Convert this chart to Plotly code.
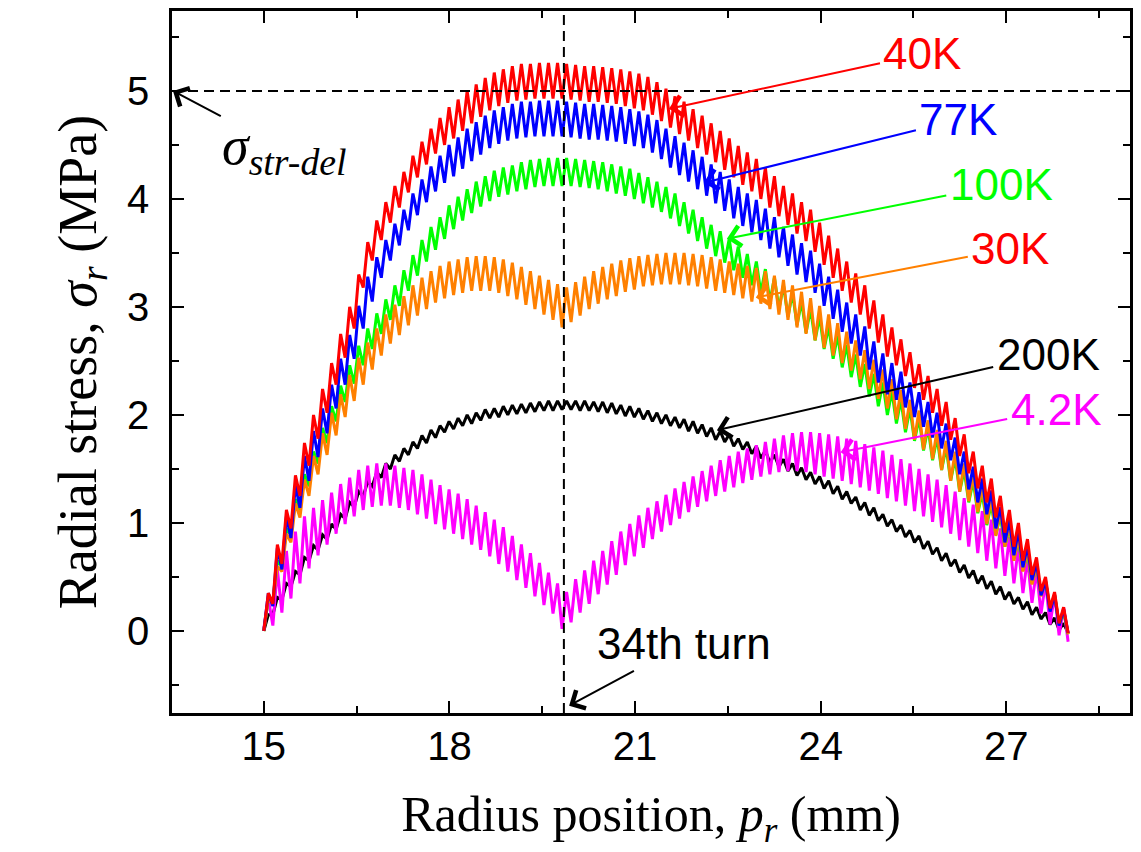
import plotly.graph_objects as go

# ---------------- data ----------------
inner_radius_mm = 15.0
outer_radius_mm = 28.0
n_turns = 89
stress_limit = 5.0          # sigma_str-del (MPa)
turn34_radius = 19.85       # radius of the 34th turn (mm)

red40_peak = [0.35,0.8,1.12,1.44,1.74,2.0,2.24,2.48,2.75,3.0,
 3.3,3.6,3.8,3.97,4.12,4.25,4.4,4.53,4.65,4.75,
 4.85,4.92,5.0,5.06,5.12,5.17,5.2,5.23,5.25,5.25,
 5.26,5.26,5.26,5.25,5.24,5.23,5.23,5.22,5.21,5.2,
 5.18,5.16,5.13,5.08,5.02,4.95,4.9,4.83,4.77,4.7,
 4.63,4.56,4.49,4.43,4.37,4.29,4.21,4.12,4.05,3.97,
 3.9,3.78,3.66,3.54,3.42,3.31,3.2,3.06,2.93,2.81,
 2.7,2.58,2.47,2.36,2.24,2.12,1.97,1.82,1.66,1.53,
 1.41,1.25,1.12,1.0,0.85,0.68,0.5,0.36,0.22]
red40_trough = [0.0,0.25,0.62,0.95,1.25,1.53,1.78,2.02,2.28,2.53,
 2.8,3.18,3.43,3.62,3.78,3.92,4.06,4.2,4.32,4.42,
 4.5,4.56,4.63,4.7,4.76,4.82,4.86,4.89,4.91,4.92,
 4.93,4.93,4.93,4.93,4.92,4.91,4.9,4.9,4.89,4.88,
 4.86,4.84,4.82,4.78,4.72,4.66,4.6,4.54,4.47,4.41,
 4.34,4.27,4.2,4.13,4.07,4.0,3.92,3.84,3.76,3.68,
 3.61,3.51,3.39,3.27,3.15,3.04,2.93,2.8,2.67,2.54,
 2.46,2.36,2.25,2.14,2.02,1.9,1.77,1.62,1.46,1.32,
 1.19,1.05,0.91,0.78,0.65,0.52,0.37,0.21,0.07,-0.02]

blue77_peak = [0.35,0.77,1.06,1.35,1.62,1.85,2.06,2.28,2.52,2.74,
 3.01,3.28,3.46,3.62,3.77,3.9,4.05,4.18,4.3,4.4,
 4.5,4.57,4.65,4.71,4.77,4.82,4.85,4.88,4.9,4.9,
 4.91,4.91,4.91,4.9,4.89,4.88,4.88,4.87,4.86,4.85,
 4.83,4.81,4.78,4.73,4.65,4.58,4.52,4.45,4.39,4.32,
 4.25,4.18,4.11,4.05,3.99,3.91,3.83,3.74,3.67,3.59,
 3.52,3.4,3.28,3.16,3.04,2.93,2.82,2.68,2.57,2.48,
 2.4,2.3,2.21,2.12,2.02,1.92,1.79,1.66,1.52,1.41,
 1.3,1.15,1.03,0.93,0.79,0.63,0.46,0.33,0.2]
blue77_trough = [0.0,0.23,0.57,0.86,1.14,1.39,1.61,1.83,2.06,2.28,
 2.52,2.8,3.05,3.27,3.43,3.57,3.71,3.85,3.97,4.07,
 4.15,4.21,4.28,4.35,4.41,4.47,4.51,4.54,4.56,4.57,
 4.58,4.58,4.58,4.58,4.57,4.56,4.55,4.55,4.54,4.53,
 4.51,4.49,4.47,4.43,4.37,4.29,4.22,4.16,4.09,4.03,
 3.96,3.89,3.82,3.75,3.69,3.62,3.54,3.46,3.38,3.3,
 3.23,3.13,3.01,2.89,2.77,2.66,2.55,2.42,2.3,2.19,
 2.14,2.07,1.98,1.89,1.79,1.69,1.58,1.45,1.31,1.19,
 1.08,0.95,0.82,0.7,0.59,0.47,0.33,0.18,0.05,-0.02]

green100_peak = [0.3,0.65,0.95,1.22,1.45,1.66,1.88,2.08,2.27,2.46,
 2.64,2.8,2.94,3.07,3.2,3.34,3.48,3.62,3.74,3.83,
 3.94,4.02,4.09,4.16,4.21,4.26,4.29,4.31,4.34,4.36,
 4.37,4.38,4.38,4.38,4.37,4.36,4.35,4.34,4.32,4.3,
 4.28,4.24,4.2,4.16,4.11,4.05,3.97,3.9,3.83,3.76,
 3.7,3.63,3.56,3.49,3.42,3.35,3.27,3.2,3.13,3.05,
 2.98,2.91,2.82,2.74,2.65,2.56,2.47,2.38,2.3,2.22,
 2.14,2.06,1.97,1.88,1.79,1.7,1.6,1.49,1.39,1.28,
 1.18,1.07,0.96,0.84,0.72,0.6,0.46,0.33,0.18]
green100_trough = [0.0,0.28,0.6,0.89,1.12,1.34,1.55,1.74,1.94,2.12,
 2.29,2.46,2.61,2.75,2.88,3.01,3.15,3.29,3.42,3.53,
 3.63,3.72,3.8,3.87,3.93,3.98,4.02,4.04,4.07,4.09,
 4.11,4.12,4.12,4.12,4.12,4.11,4.1,4.09,4.07,4.05,
 4.03,4.0,3.96,3.92,3.88,3.82,3.75,3.68,3.61,3.54,
 3.47,3.41,3.34,3.27,3.2,3.13,3.05,2.98,2.91,2.83,
 2.76,2.69,2.61,2.52,2.44,2.35,2.26,2.17,2.08,2.0,
 1.92,1.84,1.76,1.67,1.58,1.49,1.39,1.29,1.19,1.09,
 0.98,0.89,0.78,0.67,0.56,0.44,0.33,0.2,0.06,-0.03]

orange30_peak = [0.3,0.6,0.9,1.18,1.4,1.62,1.83,2.02,2.19,2.37,
 2.53,2.67,2.8,2.93,3.02,3.1,3.2,3.27,3.33,3.38,
 3.42,3.44,3.46,3.47,3.47,3.46,3.44,3.41,3.37,3.33,
 3.29,3.25,3.21,3.18,3.23,3.28,3.33,3.37,3.4,3.43,
 3.45,3.47,3.48,3.49,3.5,3.5,3.5,3.49,3.48,3.46,
 3.44,3.42,3.4,3.38,3.36,3.33,3.29,3.25,3.2,3.14,
 3.08,3.01,2.93,2.85,2.77,2.69,2.6,2.51,2.42,2.33,
 2.23,2.14,2.04,1.95,1.86,1.76,1.66,1.55,1.45,1.34,
 1.23,1.12,0.99,0.87,0.75,0.61,0.47,0.34,0.2]
orange30_trough = [0.0,0.25,0.55,0.82,1.05,1.25,1.45,1.63,1.81,1.98,
 2.13,2.28,2.42,2.55,2.66,2.74,2.83,2.92,2.98,3.04,
 3.08,3.11,3.13,3.15,3.15,3.15,3.13,3.1,3.07,3.02,
 2.98,2.93,2.88,2.81,2.86,2.92,2.98,3.03,3.07,3.1,
 3.14,3.16,3.19,3.2,3.21,3.21,3.21,3.2,3.19,3.17,
 3.15,3.13,3.11,3.08,3.05,3.03,2.98,2.93,2.88,2.81,
 2.75,2.69,2.62,2.55,2.48,2.41,2.33,2.24,2.15,2.06,
 1.96,1.87,1.77,1.68,1.59,1.49,1.39,1.29,1.2,1.1,
 0.99,0.88,0.78,0.65,0.55,0.43,0.32,0.21,0.07,-0.03]

black200_peak = [0.15,0.31,0.44,0.55,0.68,0.79,0.89,0.99,1.08,1.19,
 1.29,1.38,1.47,1.55,1.63,1.69,1.75,1.81,1.86,1.9,
 1.94,1.97,2.0,2.02,2.05,2.06,2.08,2.09,2.1,2.11,
 2.12,2.13,2.13,2.13,2.13,2.13,2.12,2.12,2.11,2.09,
 2.08,2.06,2.04,2.02,2.0,1.98,1.96,1.94,1.91,1.88,
 1.85,1.82,1.78,1.75,1.71,1.67,1.63,1.59,1.55,1.51,
 1.47,1.43,1.39,1.34,1.29,1.24,1.19,1.14,1.08,1.03,
 0.98,0.93,0.88,0.83,0.77,0.72,0.66,0.61,0.56,0.51,
 0.46,0.41,0.36,0.31,0.27,0.22,0.17,0.12,0.07]
black200_trough = [0.0,0.15,0.29,0.41,0.52,0.65,0.75,0.85,0.94,1.04,
 1.15,1.25,1.34,1.42,1.5,1.57,1.63,1.69,1.74,1.79,
 1.84,1.87,1.9,1.92,1.95,1.97,1.98,2.0,2.01,2.02,
 2.03,2.04,2.04,2.05,2.05,2.04,2.04,2.03,2.02,2.01,
 1.99,1.98,1.96,1.94,1.92,1.9,1.88,1.85,1.83,1.8,
 1.77,1.75,1.71,1.68,1.64,1.6,1.56,1.52,1.48,1.44,
 1.4,1.36,1.32,1.27,1.22,1.18,1.12,1.07,1.02,0.97,
 0.92,0.87,0.82,0.76,0.71,0.65,0.6,0.54,0.49,0.44,
 0.39,0.34,0.29,0.25,0.2,0.15,0.11,0.06,0.01,-0.02]

magenta4_peak = [0.3,0.57,0.74,0.92,1.06,1.14,1.21,1.28,1.36,1.42,
 1.49,1.53,1.55,1.55,1.53,1.51,1.49,1.45,1.4,1.35,
 1.31,1.27,1.22,1.16,1.1,1.03,0.96,0.88,0.8,0.72,
 0.63,0.54,0.44,0.36,0.48,0.56,0.65,0.74,0.83,0.92,
 0.99,1.07,1.14,1.2,1.26,1.32,1.38,1.43,1.48,1.53,
 1.58,1.62,1.66,1.69,1.72,1.75,1.78,1.81,1.83,1.84,
 1.84,1.83,1.82,1.8,1.78,1.76,1.73,1.7,1.67,1.63,
 1.59,1.55,1.5,1.45,1.4,1.35,1.29,1.23,1.17,1.11,
 1.03,0.95,0.87,0.78,0.67,0.56,0.45,0.34,0.22]
magenta4_trough = [0.02,0.05,0.17,0.3,0.44,0.58,0.7,0.8,0.9,0.99,
 1.06,1.12,1.15,1.16,1.16,1.14,1.12,1.08,1.04,0.99,
 0.94,0.9,0.85,0.8,0.75,0.69,0.62,0.55,0.47,0.4,
 0.32,0.24,0.16,0.02,0.08,0.17,0.25,0.34,0.43,0.52,
 0.61,0.69,0.77,0.85,0.92,0.98,1.04,1.1,1.15,1.2,
 1.25,1.29,1.33,1.37,1.4,1.43,1.45,1.47,1.48,1.48,
 1.47,1.45,1.43,1.41,1.39,1.36,1.33,1.3,1.27,1.23,
 1.2,1.16,1.11,1.06,1.01,0.96,0.9,0.84,0.78,0.72,
 0.65,0.58,0.51,0.44,0.35,0.26,0.16,0.06,-0.04,-0.1]

x_ticks = [15, 18, 21, 24, 27]
y_ticks = [0, 1, 2, 3, 4, 5]

# ---------------- build ----------------
pitch = (outer_radius_mm - inner_radius_mm) / n_turns
bound_x = [inner_radius_mm + k * pitch for k in range(n_turns + 1)]
mid_x = [inner_radius_mm + (k + 0.5) * pitch for k in range(n_turns)]


def zigzag(troughs, peaks):
    assert len(troughs) == n_turns + 1 and len(peaks) == n_turns
    xs, ys = [], []
    for k in range(n_turns):
        xs += [bound_x[k], mid_x[k]]
        ys += [troughs[k], peaks[k]]
    xs.append(bound_x[-1])
    ys.append(troughs[-1])
    return xs, ys


series = [
    ("200K", black200_trough, black200_peak, "#000000"),
    ("4.2K", magenta4_trough, magenta4_peak, "#FF00FF"),
    ("100K", green100_trough, green100_peak, "#00FF00"),
    ("30K", orange30_trough, orange30_peak, "#FF8000"),
    ("77K", blue77_trough, blue77_peak, "#0000FF"),
    ("40K", red40_trough, red40_peak, "#FF0000"),
]

fig = go.Figure()
for name, tr, pk, col in series:
    xs, ys = zigzag(tr, pk)
    fig.add_trace(go.Scatter(x=xs, y=ys, mode="lines", name=name,
                             line=dict(color=col, width=3),
                             showlegend=False, hoverinfo="skip"))

# reference lines
fig.add_shape(type="line", xref="paper", yref="y", x0=0, x1=1,
              y0=stress_limit, y1=stress_limit, layer="above",
              line=dict(color="black", width=2, dash="10px,6px"))
fig.add_shape(type="line", xref="x", yref="paper", x0=turn34_radius,
              x1=turn34_radius, y0=0, y1=1, layer="above",
              line=dict(color="black", width=2, dash="10px,6px"))

SANS = "Liberation Sans, Arial, sans-serif"
SERIF = "Liberation Serif, Times New Roman, serif"

labels = [
    ("40K", "#FF0000", "#FF0000", 25.645, 5.342, 21.548, 4.834),
    ("77K", "#0000FF", "#0000FF", 26.226, 4.732, 22.113, 4.150),
    ("100K", "#00FF00", "#00FF00", 26.919, 4.131, 22.484, 3.632),
    ("30K", "#FF0000", "#FF8000", 27.065, 3.540, 22.952, 3.087),
    ("200K", "#000000", "#000000", 27.677, 2.560, 22.323, 1.858),
    ("4.2K", "#FF00FF", "#FF00FF", 27.806, 2.052, 24.323, 1.654),
    ("34th turn", "#000000", "#000000", 21.79, -0.12, 19.935, -0.693),
]
for txt, tcol, acol, tx, ty, hx, hy in labels:
    fig.add_annotation(x=hx, y=hy, ax=tx, ay=ty, axref="x", ayref="y",
                       xref="x", yref="y", text=txt, showarrow=True,
                       arrowhead=4, arrowsize=2.0, arrowwidth=2.0,
                       arrowcolor=acol, standoff=0, startstandoff=2,
                       font=dict(family=SANS, size=44, color=tcol))

fig.add_annotation(x=13.532, y=stress_limit, ax=15.339, ay=4.455,
                   axref="x", ayref="y", xref="x", yref="y",
                   text="<i>σ</i><sub><i>str-del</i></sub>", showarrow=True,
                   arrowhead=4, arrowsize=2.0, arrowwidth=2.0,
                   arrowcolor="black", standoff=0,
                   font=dict(family=SERIF, size=54, color="black"))

axis_common = dict(showline=True, linecolor="black", linewidth=2.5,
                   mirror="allticks", ticks="inside", ticklen=12,
                   tickwidth=2.2, tickcolor="black", showgrid=False,
                   zeroline=False,
                   tickfont=dict(family=SANS, size=40, color="black"))

fig.update_layout(
    width=1141, height=852,
    margin=dict(l=172, r=8, t=9, b=139),
    plot_bgcolor="white", paper_bgcolor="white",
    xaxis=dict(range=[13.516, 29.0], tickvals=x_ticks,
               minor=dict(dtick=1.5, tick0=15, ticks="inside", ticklen=7,
                          tickwidth=2.2, tickcolor="black"),
               ticklabelstandoff=-4,
               title=dict(text="Radius position, <i>p</i><sub><i>r</i></sub> (mm)",
                          font=dict(family=SERIF, size=50, color="black"),
                          standoff=30),
               **axis_common),
    yaxis=dict(range=[-0.76, 5.74], tickvals=y_ticks,
               minor=dict(dtick=0.5, tick0=0, ticks="inside", ticklen=7,
                          tickwidth=2.2, tickcolor="black"),
               ticklabelstandoff=12,
               title=dict(text="Radial stress, <i>σ</i><sub><i>r</i></sub> (MPa)",
                          font=dict(family=SERIF, size=54, color="black"),
                          standoff=14),
               **axis_common),
)

fig.write_html("out.html")
